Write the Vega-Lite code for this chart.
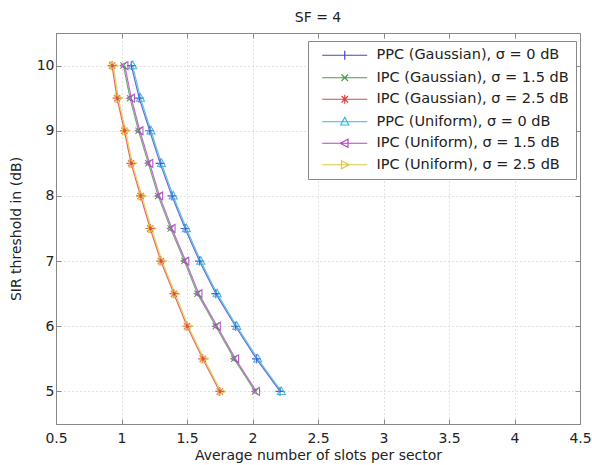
{
  "$schema": "https://vega.github.io/schema/vega-lite/v6.json",
  "width": 524,
  "height": 391,
  "autosize": {"type": "none"},
  "padding": {"left": 56, "top": 33, "right": 12, "bottom": 41},
  "background": "white",
  "title": {"text": "SF = 4", "font": "DejaVu Sans", "fontSize": 14, "fontWeight": "normal", "color": "#222", "offset": 8, "anchor": "middle"},
  "config": {"view": {"stroke": "#888"}, "font": "DejaVu Sans"},
  "data": {"values": [
    {"series": "PPC (Gaussian), σ = 0 dB", "sir": 10, "slots": 1.075},
    {"series": "PPC (Gaussian), σ = 0 dB", "sir": 9.5, "slots": 1.135},
    {"series": "PPC (Gaussian), σ = 0 dB", "sir": 9, "slots": 1.215},
    {"series": "PPC (Gaussian), σ = 0 dB", "sir": 8.5, "slots": 1.295},
    {"series": "PPC (Gaussian), σ = 0 dB", "sir": 8, "slots": 1.385},
    {"series": "PPC (Gaussian), σ = 0 dB", "sir": 7.5, "slots": 1.485},
    {"series": "PPC (Gaussian), σ = 0 dB", "sir": 7, "slots": 1.595},
    {"series": "PPC (Gaussian), σ = 0 dB", "sir": 6.5, "slots": 1.72},
    {"series": "PPC (Gaussian), σ = 0 dB", "sir": 6, "slots": 1.87},
    {"series": "PPC (Gaussian), σ = 0 dB", "sir": 5.5, "slots": 2.03},
    {"series": "PPC (Gaussian), σ = 0 dB", "sir": 5, "slots": 2.21},
    {"series": "IPC (Gaussian), σ = 1.5 dB", "sir": 10, "slots": 1.015},
    {"series": "IPC (Gaussian), σ = 1.5 dB", "sir": 9.5, "slots": 1.065},
    {"series": "IPC (Gaussian), σ = 1.5 dB", "sir": 9, "slots": 1.13},
    {"series": "IPC (Gaussian), σ = 1.5 dB", "sir": 8.5, "slots": 1.205},
    {"series": "IPC (Gaussian), σ = 1.5 dB", "sir": 8, "slots": 1.28},
    {"series": "IPC (Gaussian), σ = 1.5 dB", "sir": 7.5, "slots": 1.375},
    {"series": "IPC (Gaussian), σ = 1.5 dB", "sir": 7, "slots": 1.48},
    {"series": "IPC (Gaussian), σ = 1.5 dB", "sir": 6.5, "slots": 1.58},
    {"series": "IPC (Gaussian), σ = 1.5 dB", "sir": 6, "slots": 1.72},
    {"series": "IPC (Gaussian), σ = 1.5 dB", "sir": 5.5, "slots": 1.86},
    {"series": "IPC (Gaussian), σ = 1.5 dB", "sir": 5, "slots": 2.02},
    {"series": "IPC (Gaussian), σ = 2.5 dB", "sir": 10, "slots": 0.928},
    {"series": "IPC (Gaussian), σ = 2.5 dB", "sir": 9.5, "slots": 0.966},
    {"series": "IPC (Gaussian), σ = 2.5 dB", "sir": 9, "slots": 1.022},
    {"series": "IPC (Gaussian), σ = 2.5 dB", "sir": 8.5, "slots": 1.073},
    {"series": "IPC (Gaussian), σ = 2.5 dB", "sir": 8, "slots": 1.145},
    {"series": "IPC (Gaussian), σ = 2.5 dB", "sir": 7.5, "slots": 1.219},
    {"series": "IPC (Gaussian), σ = 2.5 dB", "sir": 7, "slots": 1.3},
    {"series": "IPC (Gaussian), σ = 2.5 dB", "sir": 6.5, "slots": 1.4},
    {"series": "IPC (Gaussian), σ = 2.5 dB", "sir": 6, "slots": 1.5},
    {"series": "IPC (Gaussian), σ = 2.5 dB", "sir": 5.5, "slots": 1.62},
    {"series": "IPC (Gaussian), σ = 2.5 dB", "sir": 5, "slots": 1.75},
    {"series": "PPC (Uniform), σ = 0 dB", "sir": 10, "slots": 1.085},
    {"series": "PPC (Uniform), σ = 0 dB", "sir": 9.5, "slots": 1.145},
    {"series": "PPC (Uniform), σ = 0 dB", "sir": 9, "slots": 1.225},
    {"series": "PPC (Uniform), σ = 0 dB", "sir": 8.5, "slots": 1.305},
    {"series": "PPC (Uniform), σ = 0 dB", "sir": 8, "slots": 1.395},
    {"series": "PPC (Uniform), σ = 0 dB", "sir": 7.5, "slots": 1.495},
    {"series": "PPC (Uniform), σ = 0 dB", "sir": 7, "slots": 1.605},
    {"series": "PPC (Uniform), σ = 0 dB", "sir": 6.5, "slots": 1.73},
    {"series": "PPC (Uniform), σ = 0 dB", "sir": 6, "slots": 1.88},
    {"series": "PPC (Uniform), σ = 0 dB", "sir": 5.5, "slots": 2.04},
    {"series": "PPC (Uniform), σ = 0 dB", "sir": 5, "slots": 2.22},
    {"series": "IPC (Uniform), σ = 1.5 dB", "sir": 10, "slots": 1.025},
    {"series": "IPC (Uniform), σ = 1.5 dB", "sir": 9.5, "slots": 1.075},
    {"series": "IPC (Uniform), σ = 1.5 dB", "sir": 9, "slots": 1.14},
    {"series": "IPC (Uniform), σ = 1.5 dB", "sir": 8.5, "slots": 1.215},
    {"series": "IPC (Uniform), σ = 1.5 dB", "sir": 8, "slots": 1.29},
    {"series": "IPC (Uniform), σ = 1.5 dB", "sir": 7.5, "slots": 1.385},
    {"series": "IPC (Uniform), σ = 1.5 dB", "sir": 7, "slots": 1.49},
    {"series": "IPC (Uniform), σ = 1.5 dB", "sir": 6.5, "slots": 1.59},
    {"series": "IPC (Uniform), σ = 1.5 dB", "sir": 6, "slots": 1.73},
    {"series": "IPC (Uniform), σ = 1.5 dB", "sir": 5.5, "slots": 1.87},
    {"series": "IPC (Uniform), σ = 1.5 dB", "sir": 5, "slots": 2.03},
    {"series": "IPC (Uniform), σ = 2.5 dB", "sir": 10, "slots": 0.938},
    {"series": "IPC (Uniform), σ = 2.5 dB", "sir": 9.5, "slots": 0.976},
    {"series": "IPC (Uniform), σ = 2.5 dB", "sir": 9, "slots": 1.032},
    {"series": "IPC (Uniform), σ = 2.5 dB", "sir": 8.5, "slots": 1.083},
    {"series": "IPC (Uniform), σ = 2.5 dB", "sir": 8, "slots": 1.155},
    {"series": "IPC (Uniform), σ = 2.5 dB", "sir": 7.5, "slots": 1.229},
    {"series": "IPC (Uniform), σ = 2.5 dB", "sir": 7, "slots": 1.31},
    {"series": "IPC (Uniform), σ = 2.5 dB", "sir": 6.5, "slots": 1.41},
    {"series": "IPC (Uniform), σ = 2.5 dB", "sir": 6, "slots": 1.51},
    {"series": "IPC (Uniform), σ = 2.5 dB", "sir": 5.5, "slots": 1.63},
    {"series": "IPC (Uniform), σ = 2.5 dB", "sir": 5, "slots": 1.76}
  ]},
  "layer": [
    {
      "mark": {"type": "line", "strokeWidth": 1.2, "opacity": 0.8},
      "encoding": {
        "x": {"field": "slots", "type": "quantitative",
          "scale": {"domain": [0.5, 4.5], "nice": false, "zero": false},
          "axis": {"orient": "bottom", "values": [0.5, 1, 1.5, 2, 2.5, 3, 3.5, 4, 4.5], "format": "~g",
            "grid": true, "gridColor": "#c4c4c4", "gridDash": [1, 3], "gridWidth": 1,
            "tickSize": -5, "tickColor": "#888", "domainColor": "#888", "labelFlush": false, "labelOverlap": false,
            "labelFont": "DejaVu Sans", "labelFontSize": 14, "labelColor": "#222", "labelPadding": 12,
            "title": "Average number of slots per sector", "titleFont": "DejaVu Sans", "titleFontSize": 14,
            "titleFontWeight": "normal", "titleColor": "#222", "titleY": 31, "titleBaseline": "middle"}},
        "y": {"field": "sir", "type": "quantitative",
          "scale": {"domain": [4.5, 10.5], "nice": false, "zero": false},
          "axis": {"orient": "left", "values": [5, 6, 7, 8, 9, 10],
            "grid": true, "gridColor": "#c4c4c4", "gridDash": [1, 3], "gridWidth": 1,
            "tickSize": -5, "tickColor": "#888", "domainColor": "#888", "labelFlush": false,
            "labelFont": "DejaVu Sans", "labelFontSize": 14, "labelColor": "#222", "labelPadding": 7,
            "title": "SIR threshold in (dB)", "titleFont": "DejaVu Sans", "titleFontSize": 14,
            "titleFontWeight": "normal", "titleColor": "#222", "titleX": -40, "titleBaseline": "middle"}},
        "color": {"field": "series", "type": "nominal",
          "scale": {"domain": ["PPC (Gaussian), σ = 0 dB", "IPC (Gaussian), σ = 1.5 dB", "IPC (Gaussian), σ = 2.5 dB", "PPC (Uniform), σ = 0 dB", "IPC (Uniform), σ = 1.5 dB", "IPC (Uniform), σ = 2.5 dB"],
            "range": ["#4646c8", "#4a9a4a", "#e04444", "#38b4dc", "#b444c8", "#dcc83c"]},
          "legend": null}
      }
    },
    {
      "mark": {"type": "point", "filled": false, "strokeWidth": 1.1, "size": 80, "opacity": 0.9},
      "encoding": {
        "x": {"field": "slots", "type": "quantitative",
          "axis": {"orient": "top", "values": [0.5, 1, 1.5, 2, 2.5, 3, 3.5, 4, 4.5], "labels": false, "title": null,
            "grid": false, "tickSize": -5, "tickColor": "#888", "domainColor": "#888"}},
        "y": {"field": "sir", "type": "quantitative",
          "axis": {"orient": "right", "values": [5, 6, 7, 8, 9, 10], "labels": false, "title": null,
            "grid": false, "tickSize": -5, "tickColor": "#888", "domainColor": "#888"}},
        "color": {"field": "series", "type": "nominal", "legend": null},
        "shape": {"field": "series", "type": "nominal",
          "scale": {"domain": ["PPC (Gaussian), σ = 0 dB", "IPC (Gaussian), σ = 1.5 dB", "IPC (Gaussian), σ = 2.5 dB", "PPC (Uniform), σ = 0 dB", "IPC (Uniform), σ = 1.5 dB", "IPC (Uniform), σ = 2.5 dB"],
            "range": [
              "M-1,0L1,0M0,-1L0,1",
              "M-0.7,-0.7L0.7,0.7M-0.7,0.7L0.7,-0.7",
              "M-1,0L1,0M0,-1L0,1M-0.7,-0.7L0.7,0.7M-0.7,0.7L0.7,-0.7",
              "M0,-1L0.9,0.7L-0.9,0.7Z",
              "M-1,0L0.7,-0.9L0.7,0.9Z",
              "M1,0L-0.7,-0.9L-0.7,0.9Z"
            ]},
          "legend": null}
      }
    },
    {
      "mark": {"type": "point", "filled": false, "strokeWidth": 1.2, "opacity": 0},
      "encoding": {
        "x": {"field": "slots", "type": "quantitative", "axis": null},
        "y": {"field": "sir", "type": "quantitative", "axis": null},
        "color": {"field": "series", "type": "nominal",
          "legend": {"orient": "none", "legendX": 252, "legendY": 8, "title": null,
            "fillColor": "white", "strokeColor": "#888", "padding": 7,
            "labelFont": "DejaVu Sans", "labelFontSize": 14.5, "labelColor": "#222", "labelOffset": 47, "labelLimit": 400,
            "rowPadding": 6.5, "symbolSize": 100, "symbolStrokeWidth": 1.2,
            "encode": {"symbols": {"update": {"opacity": {"value": 1}}}}}},
        "shape": {"field": "series", "type": "nominal",
          "scale": {"domain": ["PPC (Gaussian), σ = 0 dB", "IPC (Gaussian), σ = 1.5 dB", "IPC (Gaussian), σ = 2.5 dB", "PPC (Uniform), σ = 0 dB", "IPC (Uniform), σ = 1.5 dB", "IPC (Uniform), σ = 2.5 dB"],
            "range": [
              "M0,0L9,0M4.5,-0.9L4.5,0.9",
              "M0,0L9,0M3.85,-0.65L5.15,0.65M3.85,0.65L5.15,-0.65",
              "M0,0L9,0M4.5,-0.9L4.5,0.9M3.85,-0.65L5.15,0.65M3.85,0.65L5.15,-0.65",
              "M0,0L9,0M4.5,-0.9L5.3,0.65L3.7,0.65Z",
              "M0,0L9,0M3.6,0L5.15,-0.8L5.15,0.8Z",
              "M0,0L9,0M5.4,0L3.85,-0.8L3.85,0.8Z"
            ]},
          "legend": {"orient": "none", "legendX": 252, "legendY": 8, "title": null,
            "fillColor": "white", "strokeColor": "#888", "padding": 7,
            "labelFont": "DejaVu Sans", "labelFontSize": 14.5, "labelColor": "#222", "labelOffset": 47, "labelLimit": 400,
            "rowPadding": 6.5, "symbolSize": 100, "symbolStrokeWidth": 1.2,
            "encode": {"symbols": {"update": {"opacity": {"value": 1}}}}}}
      }
    }
  ],
  "resolve": {"scale": {"shape": "independent"}, "axis": {"x": "independent", "y": "independent"}, "legend": {"color": "independent", "shape": "independent"}}
}
